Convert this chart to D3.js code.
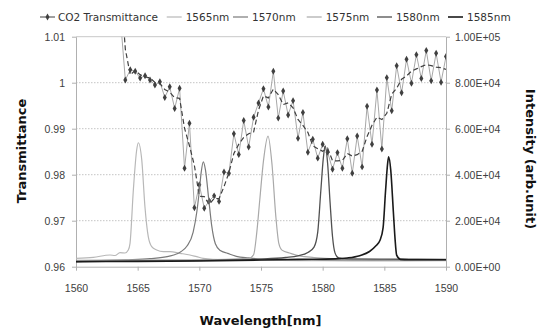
<!DOCTYPE html>
<html lang="en">
<head>
<meta charset="UTF-8">
<title>CO2 Transmittance</title>
<script src="https://d3js.org/d3.v7.min.js"></script>
<style>
    body { margin: 0; background: #fff; }
    svg { font-family: "DejaVu Sans", Verdana, sans-serif; }
    .tick text { fill: #404040; font-size: 10.5px; }
    .legend text { fill: #333; font-size: 10.5px; }
    .title { font-weight: bold; font-size: 13px; fill: #111; }
</style>
</head>
<body>
<div id="chart"></div>
<script>
// CO2 transmittance (left axis)
const co2Wavelength = [1563.2,1563.6,1564.0,1564.4,1564.8,1565.2,1565.6,1566.0,1566.4,1566.8,1567.2,1567.6,
    1568.0,1568.4,1568.8,1569.2,1569.6,1570.0,1570.4,1570.8,1571.2,1571.6,1572.0,1572.4,1572.8,1573.2,1573.6,
    1574.0,1574.4,1574.8,1575.2,1575.6,1576.0,1576.4,1576.8,1577.2,1577.6,1578.0,1578.4,1578.8,1579.2,1579.6,
    1580.0,1580.4,1580.8,1581.2,1581.6,1582.0,1582.4,1582.8,1583.2,1583.6,1584.0,1584.4,1584.8,1585.2,1585.6,
    1586.0,1586.4,1586.8,1587.2,1587.6,1588.0,1588.4,1588.8,1589.2,1589.6,1590.0];
const co2Transmittance = [1.0300,1.0140,
    1.0006,1.0028,1.0025,1.0010,1.0015,1.0006,0.9995,1.0002,0.9968,0.9991,
    0.9944,0.9988,0.9814,0.9912,0.9728,0.9778,0.9727,0.9743,0.9754,0.9742,
    0.9806,0.9803,0.9889,0.9844,0.9918,0.9860,0.9925,0.9956,0.9987,0.9947,
    1.0025,0.9923,0.9982,0.9930,0.9961,0.9879,0.9935,0.9849,0.9877,0.9836,
    0.9866,0.9849,0.9812,0.9848,0.9814,0.9878,0.9803,0.9884,0.9817,0.9949,
    0.9866,0.9984,0.9856,1.0011,0.9939,1.0037,0.9978,1.0051,0.9999,1.0061,
    1.0009,1.0070,1.0004,1.0064,1.0001,1.0057];

// laser spectra (right axis), [wavelength, intensity]
const spec1565 = [[1560,3650],[1561.4,4090],[1562.76,5090],[1563.16,4870],[1563.57,6090],[1563.97,5960],
    [1564.24,7260],[1564.38,10170],[1564.65,33350],[1564.92,50740],[1565.05,53900],[1565.33,46540],
    [1565.59,26090],[1565.86,13040],[1566.14,8700],[1566.54,7260],[1567.08,6520],[1567.62,6520],
    [1568.43,5830],[1569.24,5090],[1569.79,4350],[1570.32,3650],[1572,3000],[1575,2800],[1580,2600],
    [1585,2500],[1590,2600]];
const spec1570 = [[1560,2200],[1562,2600],[1564,3000],[1566,3500],[1567.5,4500],[1568.5,6500],[1569,9000],
    [1569.5,15000],[1569.8,24000],[1570,33000],[1570.15,41000],[1570.32,45600],[1570.5,42000],
    [1570.75,30000],[1571,18000],[1571.3,10000],[1571.7,7000],[1572.3,5800],[1573,4500],[1574,3800],
    [1575.5,3200],[1580,3000],[1585,2900],[1590,2900]];
const spec1575 = [[1560,2800],[1565,2900],[1570,3000],[1574,3600],[1574.4,5200],[1574.65,14500],[1574.9,29000],
    [1575.2,46000],[1575.57,56800],[1575.9,44000],[1576.2,22000],[1576.45,10000],[1576.7,7200],
    [1577.4,5800],[1578.2,4600],[1579.3,4000],[1581,3400],[1585,3000],[1590,2800]];
const spec1580 = [[1560,2200],[1568,2500],[1572,2900],[1575,3300],[1577,4000],[1578,4700],[1578.8,6200],
    [1579.3,8500],[1579.6,15000],[1579.85,33000],[1580.05,47000],[1580.2,52500],[1580.4,45000],
    [1580.6,28000],[1580.8,13000],[1581,6000],[1581.3,3800],[1582,3400],[1585,3300],[1590,3200]];
const spec1585 = [[1560,2200],[1565,2300],[1570,2500],[1575,2900],[1578,3200],[1581,3400],[1582,3800],
    [1583,4800],[1583.8,6600],[1584.3,9000],[1584.65,11500],[1584.9,17000],[1585.1,33000],[1585.27,45000],
    [1585.35,47800],[1585.52,42000],[1585.73,24000],[1585.87,12000],[1586,5000],[1586.3,3200],
    [1587,3000],[1590,3000]];

const seriesNames = ['1565nm', '1570nm', '1575nm', '1580nm', '1585nm'];
const seriesData = [spec1565, spec1570, spec1575, spec1580, spec1585];
const seriesColors = ['#b8b8b8', '#7a7a7a', '#a9a9a9', '#505050', '#1a1a1a'];
const seriesWidths = [1.2, 1.2, 1.2, 1.3, 1.6];

const xTicks = [1560, 1565, 1570, 1575, 1580, 1585, 1590];
const yLeftTicks = [0.96, 0.97, 0.98, 0.99, 1, 1.01];
const yRightTicks = [0, 20000, 40000, 60000, 80000, 100000];

const width = 539, height = 331;
const margin = { top: 36.7, right: 93, bottom: 64.3, left: 76 };
const iw = width - margin.left - margin.right;
const ih = height - margin.top - margin.bottom;

const svg = d3.select('#chart').append('svg')
    .attr('width', width)
    .attr('height', height);

const g = svg.append('g').attr('transform', `translate(${margin.left},${margin.top})`);

const x = d3.scaleLinear().domain([1560, 1590]).range([0, iw]);
const yL = d3.scaleLinear().domain([0.96, 1.01]).range([ih, 0]);
const yR = d3.scaleLinear().domain([0, 100000]).range([ih, 0]);

svg.append('defs').append('clipPath').attr('id', 'clip')
    .append('rect').attr('width', iw).attr('height', ih);

// gridlines
g.append('g').selectAll('line')
    .data(yLeftTicks.slice(1))
    .enter().append('line')
    .attr('x1', 0).attr('x2', iw)
    .attr('y1', d => yL(d)).attr('y2', d => yL(d))
    .attr('stroke', d => d === 1.01 ? '#c8c8c8' : '#c4c4c4')
    .attr('stroke-dasharray', d => d === 1.01 ? null : '1.5,1.5');

// axes
const fmtL = d => d === 1 ? '1' : d3.format('.2f')(d);
const fmtR = d => {
    const e = d === 0 ? 0 : Math.floor(Math.log10(d));
    const m = d === 0 ? 0 : d / Math.pow(10, e);
    return m.toFixed(2) + 'E+' + String(e).padStart(2, '0');
};

const styleAxis = sel => {
    sel.select('.domain').attr('stroke', '#b0b0b0');
    sel.selectAll('.tick line').attr('stroke', '#b0b0b0');
};

g.append('g').attr('transform', `translate(0,${ih})`)
    .call(d3.axisBottom(x).tickValues(xTicks).tickSize(4).tickSizeOuter(0).tickPadding(14).tickFormat(d3.format('d')))
    .call(styleAxis);

g.append('g')
    .call(d3.axisLeft(yL).tickValues(yLeftTicks).tickSize(4).tickSizeOuter(0).tickPadding(7).tickFormat(fmtL))
    .call(styleAxis);

g.append('g').attr('transform', `translate(${iw},0)`)
    .call(d3.axisRight(yR).tickValues(yRightTicks).tickSize(4).tickSizeOuter(0).tickPadding(5).tickFormat(fmtR))
    .call(styleAxis);

// CO2 transmittance
const co2 = co2Wavelength.map((w, i) => ({ w: w, v: co2Transmittance[i] }));
const co2Avg = co2.slice(1).map((d, i) => ({ w: d.w, v: (co2[i].v + d.v) / 2 }));

const plot = g.append('g').attr('clip-path', 'url(#clip)');

const lineL = d3.line().x(d => x(d.w)).y(d => yL(d.v));

plot.append('path')
    .datum(co2)
    .attr('fill', 'none')
    .attr('stroke', '#a8a8a8')
    .attr('stroke-width', 1)
    .attr('d', lineL);

plot.append('path')
    .datum(co2Avg)
    .attr('fill', 'none')
    .attr('stroke', '#404040')
    .attr('stroke-width', 1.2)
    .attr('stroke-dasharray', '5,3')
    .attr('d', lineL);

const diamond = d3.symbol().type(d3.symbolDiamond).size(14);
plot.append('g').selectAll('path')
    .data(co2)
    .enter().append('path')
    .attr('d', diamond)
    .attr('transform', d => `translate(${x(d.w)},${yL(d.v)})`)
    .attr('fill', '#404040');

// spectra
const lineR = d3.line().x(d => x(d[0])).y(d => yR(d[1])).curve(d3.curveMonotoneX);
seriesData.forEach((s, i) => {
    plot.append('path')
        .datum(s)
        .attr('fill', 'none')
        .attr('stroke', seriesColors[i])
        .attr('stroke-width', seriesWidths[i])
        .attr('d', lineR);
});

// titles
svg.append('text').attr('class', 'title')
    .attr('x', 260.5).attr('y', 325)
    .attr('text-anchor', 'middle')
    .text('Wavelength[nm]');

svg.append('text').attr('class', 'title')
    .attr('transform', 'translate(26,151) rotate(-90)')
    .attr('text-anchor', 'middle')
    .text('Transmittance');

svg.append('text').attr('class', 'title')
    .attr('transform', 'translate(526,159) rotate(90)')
    .attr('text-anchor', 'middle')
    .text('Intensity (arb.unit)');

// legend
const legend = svg.append('g').attr('class', 'legend');
const legendX = [40, 166.7, 233, 306.7, 377, 448];
const legendY = 17;

legend.append('line')
    .attr('x1', legendX[0]).attr('x2', legendX[0] + 15)
    .attr('y1', legendY).attr('y2', legendY)
    .attr('stroke', '#404040').attr('stroke-width', 1);
legend.append('path')
    .attr('d', diamond)
    .attr('transform', `translate(${legendX[0] + 7.5},${legendY})`)
    .attr('fill', '#404040');
legend.append('text')
    .attr('x', legendX[0] + 18).attr('y', legendY).attr('dy', '0.35em')
    .text('CO2 Transmittance');

seriesNames.forEach((name, i) => {
    const lx = legendX[i + 1];
    legend.append('line')
        .attr('x1', lx).attr('x2', lx + 15)
        .attr('y1', legendY).attr('y2', legendY)
        .attr('stroke', seriesColors[i]).attr('stroke-width', seriesWidths[i]);
    legend.append('text')
        .attr('x', lx + 19).attr('y', legendY).attr('dy', '0.35em')
        .text(name);
});
</script>
</body>
</html>
